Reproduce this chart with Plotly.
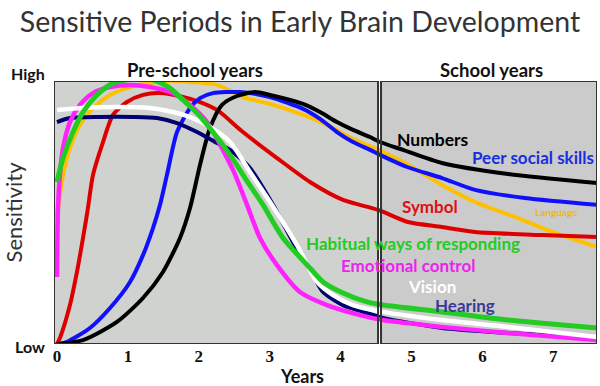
import plotly.graph_objects as go

# ---- data (years, sensitivity 0=Low .. 100=High) ----
numbers_x = [0, 0.367, 0.846, 1.213, 1.495, 1.735, 1.876, 2.017, 2.158, 2.327, 2.539, 2.793, 3.004, 3.470, 3.709, 3.949, 4.175, 4.415, 4.556, 4.880, 5.430, 6.361, 7.616]
numbers_y = [0, 1.5, 8.4, 17.5, 27.4, 40.3, 51.7, 68.1, 82.1, 90.9, 94.3, 95.8, 94.7, 91.3, 88.2, 84.4, 81.4, 78.7, 76.8, 73.8, 68.8, 64.6, 61.2]

peer_x = [0.042, 0.141, 0.465, 0.748, 1.030, 1.213, 1.354, 1.453, 1.551, 1.693, 1.876, 2.017, 2.200, 2.581, 3.004, 3.470, 3.709, 3.949, 4.175, 4.415, 4.556, 4.937, 5.430, 5.896, 6.601, 7.616]
peer_y = [0, 0.8, 6.1, 13.7, 23.6, 33.8, 44.1, 52.9, 64.3, 80.6, 89.7, 93.5, 95.4, 95.8, 93.9, 89.4, 85.6, 80.6, 76.8, 73.8, 71.9, 67.3, 63.1, 58.6, 55.5, 52.9]

symbol_x = [0, 0.042, 0.183, 0.282, 0.367, 0.437, 0.508, 0.649, 0.790, 0.987, 1.213, 1.453, 1.777, 2.017, 2.257, 2.623, 3.103, 3.568, 4.034, 4.528, 4.951, 5.430, 5.896, 6.840, 7.616]
symbol_y = [0, 2.3, 14.8, 27.4, 40.3, 51.7, 64.3, 76.8, 87.1, 92.0, 94.7, 95.4, 93.9, 92.0, 89.0, 80.6, 70.7, 61.6, 54.8, 51.0, 46.4, 44.5, 42.6, 41.4, 40.7]

language_x = [0, 0.042, 0.085, 0.183, 0.324, 0.508, 0.748, 1.030, 1.312, 1.594, 1.876, 2.257, 2.623, 3.004, 3.470, 3.808, 4.175, 4.513, 4.937, 5.430, 5.896, 6.502, 6.982, 7.616]
language_y = [49.0, 56.7, 64.3, 74.5, 83.3, 89.7, 94.7, 97.7, 99.2, 100.0, 99.6, 98.5, 93.9, 91.3, 87.1, 83.3, 77.9, 74.1, 68.4, 60.5, 54.0, 47.9, 42.6, 36.9]

habitual_x = [0, 0.085, 0.226, 0.367, 0.564, 0.790, 1.072, 1.354, 1.594, 1.777, 1.975, 2.200, 2.440, 2.652, 2.906, 3.188, 3.568, 3.752, 4.034, 4.372, 4.598, 5.430, 6.361, 7.616]
habitual_y = [61.6, 70.7, 80.6, 88.2, 94.7, 99.2, 100.8, 100.4, 97.3, 92.8, 87.8, 80.6, 71.9, 63.1, 52.9, 40.3, 28.9, 23.6, 19.4, 16.0, 14.8, 12.2, 9.1, 6.1]

emotional_x = [0, 0.014, 0.042, 0.085, 0.183, 0.324, 0.508, 0.748, 1.030, 1.312, 1.636, 1.876, 2.116, 2.482, 2.680, 2.863, 3.103, 3.427, 3.808, 4.274, 4.598, 5.430, 6.361, 7.616]
emotional_y = [25.5, 51.7, 64.3, 74.5, 84.4, 90.9, 95.4, 97.7, 98.5, 97.7, 95.4, 90.9, 84.4, 66.2, 52.9, 40.3, 30.0, 19.8, 14.8, 11.0, 9.1, 6.5, 4.2, 1.5]

vision_x = [0, 0.367, 0.846, 1.312, 1.636, 1.876, 2.116, 2.440, 2.722, 3.004, 3.385, 3.667, 3.893, 4.175, 4.598, 5.430, 6.361, 7.616]
vision_y = [89.0, 89.7, 90.1, 89.7, 88.2, 86.3, 83.2, 76.8, 65.4, 54.0, 37.6, 23.6, 18.6, 14.8, 12.2, 9.1, 6.5, 2.7]

hearing_x = [0, 0.183, 0.606, 1.072, 1.410, 1.693, 1.975, 2.257, 2.440, 2.722, 3.047, 3.329, 3.611, 3.752, 4.034, 4.372, 4.598, 5.430, 6.361, 7.616]
hearing_y = [84.4, 85.9, 86.3, 86.3, 85.9, 84.0, 80.6, 76.4, 73.8, 66.9, 52.9, 38.8, 26.2, 19.8, 14.8, 11.8, 9.9, 6.1, 4.2, 2.3]

x_ticks = [0, 1, 2, 3, 4, 5, 6, 7]

series = [
    ("Language", language_x, language_y, "#ffc000", 4),
    ("Symbol", symbol_x, symbol_y, "#dd0000", 4),
    ("Peer social skills", peer_x, peer_y, "#1010ff", 4),
    ("Numbers", numbers_x, numbers_y, "#000000", 4),
    ("Hearing", hearing_x, hearing_y, "#000070", 4),
    ("Emotional control", emotional_x, emotional_y, "#ff22ff", 4.5),
    ("Vision", vision_x, vision_y, "#ffffff", 4.5),
    ("Habitual ways of responding", habitual_x, habitual_y, "#22cc22", 5),
]

fig = go.Figure()
for name, xs, ys, col, w in series:
    fig.add_trace(go.Scatter(x=xs, y=ys, mode="lines", name=name,
                             line=dict(color=col, width=w, shape="spline", smoothing=0.7)))

X0, XDIV0, XDIV1, X1 = -0.042, 4.528, 4.570, 7.616
# background panels
fig.add_shape(type="rect", x0=X0, x1=XDIV0, y0=0, y1=100, xref="x", yref="y",
              fillcolor="#cfd2ce", line=dict(width=0), layer="below")
fig.add_shape(type="rect", x0=XDIV1, x1=X1, y0=0, y1=100, xref="x", yref="y",
              fillcolor="#cbcbcb", line=dict(width=0), layer="below")
# borders
fig.add_shape(type="rect", x0=X0, x1=XDIV0, y0=0, y1=100, xref="x", yref="y",
              fillcolor="rgba(0,0,0,0)", line=dict(color="#333333", width=2), layer="above")
fig.add_shape(type="rect", x0=XDIV1, x1=X1, y0=0, y1=100, xref="x", yref="y",
              fillcolor="rgba(0,0,0,0)", line=dict(color="#333333", width=2), layer="above")

FONT = "Lato, 'Open Sans', sans-serif"
labels = [
    ("Numbers", 5.30, 77.6, "#000000", 17.5),
    ("Peer social skills", 6.71, 71.1, "#1a2ee0", 17),
    ("Symbol", 5.26, 52.1, "#dd1111", 17),
    ("Language", 7.04, 50.2, "#f5b800", 10),
    ("Habitual ways of responding", 5.02, 38.4, "#22cc22", 17),
    ("Emotional control", 4.95, 30.0, "#ee22ee", 17),
    ("Vision", 5.29, 21.7, "#ffffff", 17),
    ("Hearing", 5.75, 14.8, "#3a3a99", 17),
]
for txt, ax, ay, col, sz in labels:
    fig.add_annotation(x=ax, y=ay, text="<b>%s</b>" % txt, showarrow=False,
                       font=dict(family=FONT, size=sz, color=col), xanchor="center", yanchor="middle")

fig.add_annotation(x=0.2597, y=1.042, xref="paper", yref="paper", text="<b>Pre-school years</b>",
                   xanchor="center", yanchor="middle",
                   showarrow=False, font=dict(family=FONT, size=18.5, color="#111111"))
fig.add_annotation(x=0.805, y=1.042, xref="paper", yref="paper", text="<b>School years</b>",
                   xanchor="center", yanchor="middle",
                   showarrow=False, font=dict(family=FONT, size=18.5, color="#111111"))
fig.add_annotation(x=0, xref="paper", yref="paper", xanchor="right", yanchor="middle", xshift=-7, y=1.027,
                   text="<b>High</b>", showarrow=False, font=dict(family=FONT, size=16, color="#111111"))
fig.add_annotation(x=0, xref="paper", yref="paper", xanchor="right", yanchor="middle", xshift=-7, y=-0.008,
                   text="<b>Low</b>", showarrow=False, font=dict(family=FONT, size=16, color="#111111"))
# x-axis title (placed left of the plot centre, as in the original)
fig.add_annotation(x=0.457, y=-0.121, xref="paper", yref="paper", xanchor="center", yanchor="middle",
                   text="<b>Years</b>", showarrow=False, font=dict(family=FONT, size=18, color="#111111"))

fig.update_layout(
    width=600, height=386,
    margin=dict(l=54, r=3, t=81, b=42),
    paper_bgcolor="white", plot_bgcolor="white",
    showlegend=False,
    title=dict(text="Sensitive Periods in Early Brain Development", x=0.5, xanchor="center",
               y=1 - 22 / 386, yanchor="middle",
               font=dict(family=FONT, size=28.5, color="#333333")),
    xaxis=dict(range=[X0, X1], tickvals=x_ticks, ticktext=["<b>%d</b>" % t for t in x_ticks],
               showgrid=False, zeroline=False, showline=False, ticks="", automargin=False,
               tickfont=dict(family="'Liberation Serif', 'DejaVu Serif', serif", size=17, color="#111111")),
    yaxis=dict(range=[0, 100], showgrid=False, zeroline=False, showline=False,
               showticklabels=False, ticks="", automargin=False,
               title=dict(text="Sensitivity", standoff=24,
                          font=dict(family=FONT, size=22, color="#333333"))),
)

fig.write_html("out.html", config={"displayModeBar": False},
               post_script="document.body.style.margin='0';")
